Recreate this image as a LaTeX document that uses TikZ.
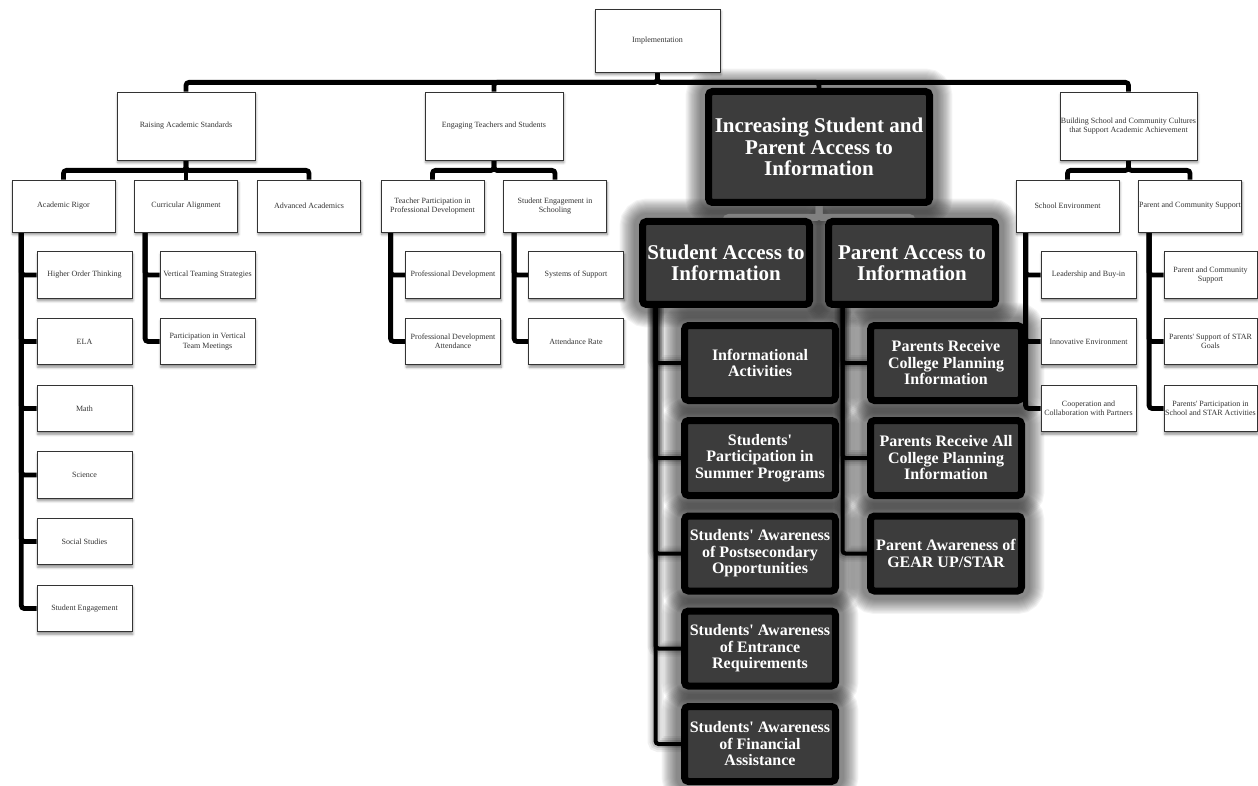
\documentclass[tikz,border=0pt]{standalone}
\usepackage{fontspec}
\setmainfont{Liberation Serif}[Ligatures=TeXOff]
\usetikzlibrary{shadows.blur,calc}
\pgfdeclarelayer{glow}
\pgfdeclarelayer{edges}
\pgfsetlayers{glow,edges,main}
\definecolor{darkfill}{HTML}{3C3C3C}
\definecolor{txtgray}{HTML}{333333}
\definecolor{busgray}{HTML}{808080}
\begin{document}
\begin{tikzpicture}[x=1pt,y=-1pt,
  lbox/.style={draw=black!80, line width=0.8pt, fill=white, inner sep=0pt, align=center,
    text=txtgray, font=\fontsize{8}{9.3}\selectfont,
    blur shadow={shadow xshift=0.8pt, shadow yshift=-2.5pt, shadow blur radius=2.5pt, shadow opacity=45}},
  lzero/.style={lbox, minimum width=125pt, minimum height=63pt},
  lone/.style={lbox, minimum width=138pt, minimum height=68pt},
  ltwo/.style={lbox, minimum width=103pt, minimum height=52pt},
  lthree/.style={lbox, minimum width=95pt, minimum height=46.5pt},
  dbox/.style={draw=black, line width=7pt, fill=darkfill, rounded corners=4pt, text=white,
    align=center, inner sep=0pt, font=\bfseries},
  dbig/.style={dbox, minimum width=221pt, minimum height=111pt, font=\bfseries\fontsize{21}{21.6}\selectfont},
  dmid/.style={dbox, minimum width=167pt, minimum height=83pt, font=\bfseries\fontsize{21}{21.6}\selectfont},
  dsmall/.style={dbox, minimum width=151pt, minimum height=75pt, font=\bfseries\fontsize{16}{16.5}\selectfont},
  conn/.style={draw=black, line width=4.8pt, rounded corners=3pt},
  dconn/.style={draw=black, line width=4pt, rounded corners=3pt,
    preaction={draw=black, line width=16pt, draw opacity=0.06},
    preaction={draw=black, line width=12pt, draw opacity=0.08},
    preaction={draw=black, line width=8pt, draw opacity=0.12}},
  gconn/.style={draw=busgray, line width=7pt, rounded corners=3pt}
]
\useasboundingbox (0,0) rectangle (1258,786);

% level 0
\node[lzero] (impl) at (657.5,40.5) {Implementation};

% level 1
\node[lone] (rais) at (186,126) {Raising Academic Standards};
\node[lone] (eng) at (494,126) {Engaging Teachers and Students};
\node[dbig] (incr) at (819,147) {Increasing Student and\\Parent Access to\\Information};
\node[lone, minimum width=137pt] (build) at (1128.5,126) {Building School and Community Cultures\\that Support Academic Achievement};

% level 2
\node[ltwo] (acad) at (63.5,206) {Academic Rigor};
\node[ltwo] (curr) at (186,206) {Curricular Alignment};
\node[ltwo] (adv) at (309,206) {Advanced Academics};
\node[ltwo] (tpp) at (432.5,206) {Teacher Participation in\\Professional Development};
\node[ltwo] (seng) at (555,206) {Student Engagement in\\Schooling};
\node[ltwo] (senv) at (1067.5,206) {School Environment};
\node[ltwo] (pcs) at (1190,206) {Parent and Community Support};
\node[dmid] (stud) at (726,263) {Student Access to\\Information};
\node[dmid] (par) at (912,263) {Parent Access to\\Information};

% level 3 - Academic Rigor
\node[lthree] (hot) at (84.5,275) {Higher Order Thinking};
\node[lthree] (ela) at (84.5,341.5) {ELA};
\node[lthree] (math) at (84.5,408.5) {Math};
\node[lthree] (sci) at (84.5,475) {Science};
\node[lthree] (soc) at (84.5,541.5) {Social Studies};
\node[lthree] (steng) at (84.5,608.5) {Student Engagement};
% Curricular Alignment
\node[lthree] (vts) at (207.5,275) {Vertical Teaming Strategies};
\node[lthree] (pvt) at (207.5,341.5) {Participation in Vertical\\Team Meetings};
% Teacher participation
\node[lthree] (pd) at (453,275) {Professional Development};
\node[lthree] (pda) at (453,341.5) {Professional Development\\Attendance};
% Student engagement
\node[lthree] (sos) at (576,275) {Systems of Support};
\node[lthree] (ar) at (576,341.5) {Attendance Rate};
% School environment
\node[lthree] (lbi) at (1088.5,275) {Leadership and Buy-in};
\node[lthree] (ie) at (1088.5,341.5) {Innovative Environment};
\node[lthree] (cc) at (1088.5,408.5) {Cooperation and\\Collaboration with Partners};
% Parent and community support
\node[lthree, minimum width=93pt] (pcs2) at (1210.5,275) {Parent and Community\\Support};
\node[lthree, minimum width=93pt] (pss) at (1210.5,341.5) {Parents' Support of STAR\\Goals};
\node[lthree, minimum width=93pt] (ppi) at (1210.5,408.5) {Parents' Participation in\\School and STAR Activities};

% dark children - student
\node[dsmall] (ia) at (760,363) {Informational\\Activities};
\node[dsmall] (sps) at (760,458) {Students'\\Participation in\\Summer Programs};
\node[dsmall] (sapo) at (760,553.5) {Students' Awareness\\of Postsecondary\\Opportunities};
\node[dsmall] (saer) at (760,648.5) {Students' Awareness\\of Entrance\\Requirements};
\node[dsmall] (safa) at (760,744) {Students' Awareness\\of Financial\\Assistance};
% dark children - parent
\node[dsmall] (prc) at (946,363) {Parents Receive\\College Planning\\Information};
\node[dsmall] (pra) at (946,458) {Parents Receive All\\College Planning\\Information};
\node[dsmall] (pag) at (946,553.5) {Parent Awareness of\\GEAR UP/STAR};

% glow
\begin{pgfonlayer}{glow}
\foreach \n in {incr,stud,par,ia,sps,sapo,saer,safa,prc,pra,pag}{
  \foreach \i in {1,...,14}{
    \draw[line width={8+2.2*\i}, draw=black, draw opacity=0.045, rounded corners=8pt]
      (\n.north west) rectangle (\n.south east);
  }
}
\end{pgfonlayer}

% connectors
\begin{pgfonlayer}{edges}
\foreach \t in {rais,eng,incr,build}
  \draw[conn] (impl.south) -- ++(0,10) -| (\t.north);
\foreach \t in {acad,curr,adv}
  \draw[conn] (rais.south) -- ++(0,10) -| (\t.north);
\foreach \t in {tpp,seng}
  \draw[conn] (eng.south) -- ++(0,10) -| (\t.north);
\foreach \t in {senv,pcs}
  \draw[conn] (build.south) -- ++(0,10) -| (\t.north);
\foreach \t in {hot,ela,math,sci,soc,steng}
  \draw[conn] ($(acad.south west)+(9.7,0)$) |- (\t.west);
\foreach \t in {vts,pvt}
  \draw[conn] ($(curr.south west)+(11,0)$) |- (\t.west);
\foreach \t in {pd,pda}
  \draw[conn] ($(tpp.south west)+(10,0)$) |- (\t.west);
\foreach \t in {sos,ar}
  \draw[conn] ($(seng.south west)+(11,0)$) |- (\t.west);
\foreach \t in {lbi,ie,cc}
  \draw[conn] ($(senv.south west)+(10,0)$) |- (\t.west);
\foreach \t in {pcs2,pss,ppi}
  \draw[conn] ($(pcs.south west)+(11,0)$) |- (\t.west);
\foreach \t in {stud,par}
  \draw[gconn] (incr.south) -- ++(0,11.5) -| (\t.north);
\foreach \t in {ia,sps,sapo,saer,safa}
  \draw[dconn] ($(stud.south west)+(16.5,0)$) |- (\t.west);
\foreach \t in {prc,pra,pag}
  \draw[dconn] ($(par.south west)+(17.5,0)$) |- (\t.west);
\end{pgfonlayer}
\end{tikzpicture}
\end{document}
